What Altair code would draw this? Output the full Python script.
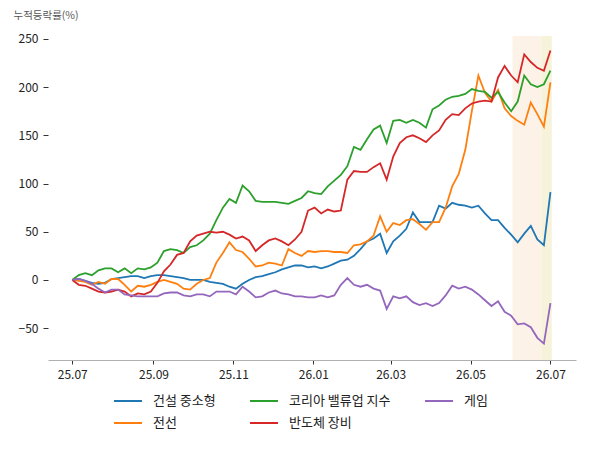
import altair as alt
import pandas as pd

# sampling dates (every 5 days from 2025-07-01 to 2026-07-01)
dates = pd.date_range("2025-07-01", periods=74, freq="5D")

construction = [0, 1, -1, -3, -4, -3, 1, 2, 3, 4,
                4, 2, 4, 5, 5, 4, 3, 2, 0, 0,
                0, -2, -3, -4, -7, -9, -4, 0, 3, 4,
                6, 8, 11, 13, 15, 15, 13, 14, 12, 14,
                17, 20, 21, 25, 32, 40, 43, 48, 28, 40,
                46, 53, 70, 60, 60, 60, 77, 74, 80, 78,
                77, 75, 77, 69, 62, 62, 54, 47, 39, 48,
                56, 42, 36, 91]

cable = [0, -1, -2, -5, -2, -4, 1, 1, -5, -12,
         -6, -7, -5, -2, 0, -2, -4, -9, -10, -4,
         0, 2, 18, 28, 39, 31, 29, 22, 14, 15,
         18, 17, 15, 32, 28, 25, 30, 29, 30, 30,
         29, 29, 28, 36, 37, 40, 46, 66, 50, 59,
         57, 62, 63, 58, 52, 60, 60, 75, 97, 110,
         135, 175, 212, 194, 185, 197, 178, 170, 165, 161,
         184, 172, 159, 205]

valueup = [0, 5, 7, 5, 10, 12, 12, 8, 12, 7,
           12, 11, 13, 18, 30, 32, 31, 28, 34, 36,
           41, 48, 62, 75, 84, 80, 98, 92, 82, 81,
           81, 81, 80, 79, 82, 85, 92, 90, 89, 97,
           103, 109, 118, 138, 135, 146, 156, 160, 142, 165,
           166, 163, 166, 163, 158, 177, 181, 187, 190, 191,
           193, 198, 196, 195, 189, 195, 184, 175, 185, 212,
           203, 200, 203, 217]

semi = [0, -5, -6, -9, -12, -13, -12, -10, -12, -17,
        -14, -15, -12, -3, 9, 16, 26, 28, 40, 46,
        48, 50, 49, 50, 47, 43, 45, 41, 30, 36,
        41, 43, 40, 36, 42, 50, 72, 75, 69, 73,
        71, 72, 104, 113, 112, 112, 117, 121, 104, 128,
        142, 148, 150, 147, 143, 150, 155, 166, 172, 171,
        178, 183, 185, 186, 185, 210, 222, 212, 205, 234,
        226, 220, 217, 238]

game = [0, 1, -1, -4, -9, -13, -10, -10, -15, -16,
        -17, -17, -17, -17, -14, -13, -13, -16, -17, -15,
        -15, -17, -12, -12, -12, -15, -7, -12, -18, -17,
        -13, -11, -14, -15, -17, -17, -18, -18, -16, -18,
        -16, -5, 2, -5, -7, -5, -9, -11, -30, -17,
        -19, -17, -23, -26, -24, -27, -24, -16, -6, -9,
        -7, -10, -15, -21, -27, -22, -33, -37, -46, -45,
        -49, -60, -66, -24]

names = ["건설 중소형", "전선", "코리아 밸류업 지수", "반도체 장비", "게임"]
colors = ["#1f77b4", "#ff7f0e", "#2ca02c", "#d62728", "#9467bd"]
series_values = [construction, cable, valueup, semi, game]

band_start = ["2026-06-02", "2026-06-24"]
band_end = ["2026-06-24", "2026-07-02"]
band_color = ["#fcf2e8", "#f6f3da"]

y_ticks = [-50, 0, 50, 100, 150, 200, 250]
x_ticks = [(2025, 7), (2025, 9), (2025, 11), (2026, 1), (2026, 3), (2026, 5), (2026, 7)]

rows = []
for i, (name, vals) in enumerate(zip(names, series_values)):
    for d, v in zip(dates, vals):
        rows.append({"date": d, "series": name, "order": i, "value": v})
df = pd.DataFrame(rows)

bands = pd.DataFrame({
    "start": pd.to_datetime(band_start),
    "end": pd.to_datetime(band_end),
    "color": band_color,
})

FONT = "Noto Sans CJK KR"

x_scale = alt.Scale(domain=[alt.DateTime(year=2025, month=6, date=12, hours=12),
                            alt.DateTime(year=2026, month=7, date=20, hours=12)])
y_scale = alt.Scale(domain=[-83, 253], nice=False, zero=False)

x_axis = alt.Axis(
    title=None,
    values=[alt.DateTime(year=y, month=m, date=1) for y, m in x_ticks],
    format="%y.%m",
    grid=False,
    domainColor="#b0b0b0",
    tickColor="#333333",
    tickSize=4,
    labelFontSize=12,
    labelPadding=5,
    labelColor="#222222",
    labelFont=FONT,
)
y_axis = alt.Axis(
    title="누적등락률(%)",
    values=y_ticks,
    grid=False,
    domain=False,
    tickColor="#333333",
    tickSize=5,
    labelFontSize=12,
    labelPadding=5,
    labelColor="#222222",
    labelFont=FONT,
    titleAngle=0,
    titleAlign="left",
    titleBaseline="alphabetic",
    titleX=-35,
    titleY=-18,
    titleFontSize=10.5,
    titleFontWeight="normal",
    titleColor="#555555",
    titleFont=FONT,
)

band_layer = alt.Chart(bands).mark_rect().encode(
    x=alt.X("start:T", scale=x_scale, axis=x_axis),
    x2="end:T",
    color=alt.Color("color:N", scale=None),
)

line_layer = alt.Chart(df).mark_line(strokeWidth=1.8).encode(
    x=alt.X("date:T", scale=x_scale, axis=x_axis),
    y=alt.Y("value:Q", scale=y_scale, axis=y_axis),
    color=alt.Color(
        "series:N",
        sort=names,
        scale=alt.Scale(domain=names, range=colors),
        legend=alt.Legend(
            title=None,
            orient="none",
            legendX=65,
            legendY=350,
            columns=3,
            symbolType="stroke",
            symbolSize=784,
            symbolStrokeWidth=2,
            labelFontSize=13,
            labelFont=FONT,
            labelColor="#222222",
            labelOffset=10,
            columnPadding=30,
            rowPadding=-2,
            padding=0,
        ),
    ),
    order=alt.Order("order:Q"),
)

chart = alt.layer(band_layer, line_layer).properties(
    width=528,
    height=324,
    autosize=alt.AutoSizeParams(type="none"),
    padding={"left": 40, "top": 28, "right": 16, "bottom": 80},
).configure_view(stroke=None)

chart.save("out.html", embed_options={"renderer": "svg", "actions": False})
